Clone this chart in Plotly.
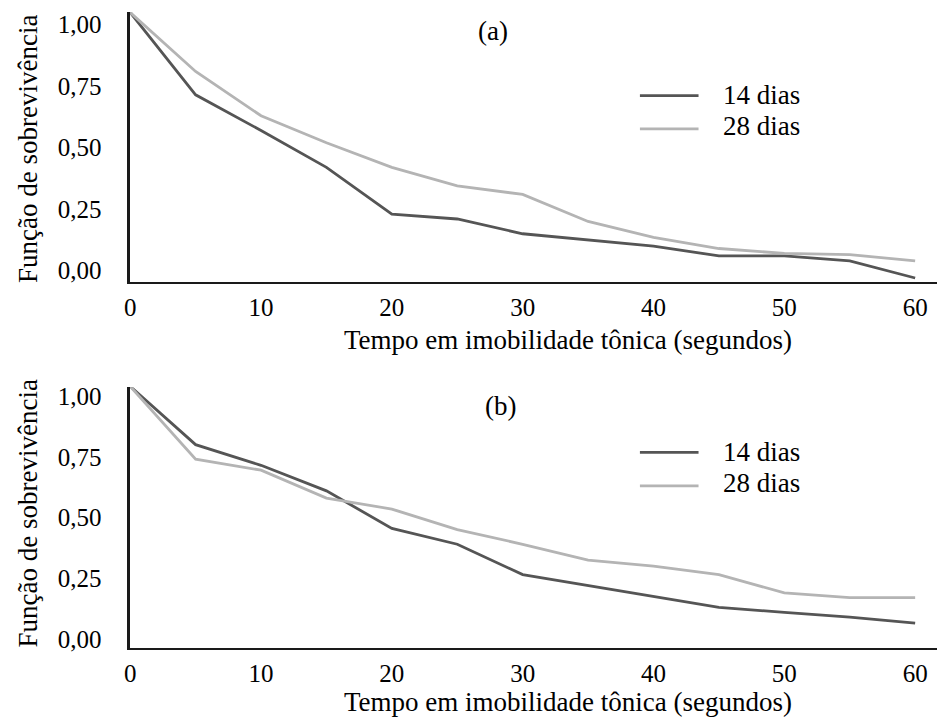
import plotly.graph_objects as go

# ---- data ----
tempo = [0, 5, 10, 15, 20, 25, 30, 35, 40, 45, 50, 55, 60]

a_14_dias = [1.05, 0.715, 0.57, 0.42, 0.23, 0.21, 0.15, 0.125, 0.10, 0.06, 0.06, 0.04, -0.03]
a_28_dias = [1.05, 0.81, 0.63, 0.52, 0.42, 0.345, 0.31, 0.20, 0.135, 0.09, 0.07, 0.065, 0.04]

b_14_dias = [1.04, 0.80, 0.715, 0.61, 0.455, 0.39, 0.265, 0.22, 0.175, 0.13, 0.11, 0.09, 0.065]
b_28_dias = [1.04, 0.74, 0.695, 0.58, 0.535, 0.45, 0.39, 0.325, 0.30, 0.265, 0.19, 0.17, 0.17]

x_ticks = [0, 10, 20, 30, 40, 50, 60]
y_ticks = [0, 0.25, 0.5, 0.75, 1.0]
y_tick_text = ["0,00", "0,25", "0,50", "0,75", "1,00"]

series_names = ["14 dias", "28 dias"]
panel_labels = ["(a)", "(b)"]
x_title = "Tempo em imobilidade tônica (segundos)"
y_title = "Função de sobrevivência"

# ---- styles ----
W, H = 937, 725
FONT = "Liberation Serif, Times New Roman, Times, DejaVu Serif, serif"
DARK = "#555555"
LIGHT = "#b4b4b4"
AXIS = "#1a1a1a"

def px_x(p):
    return p / W

def px_y(p):
    return 1 - p / H

fig = go.Figure()

fig.add_trace(go.Scatter(x=tempo, y=a_14_dias, mode="lines", name=series_names[0],
                         line=dict(color=DARK, width=2.8), xaxis="x", yaxis="y", showlegend=False))
fig.add_trace(go.Scatter(x=tempo, y=a_28_dias, mode="lines", name=series_names[1],
                         line=dict(color=LIGHT, width=2.8), xaxis="x", yaxis="y", showlegend=False))
fig.add_trace(go.Scatter(x=tempo, y=b_14_dias, mode="lines", name=series_names[0],
                         line=dict(color=DARK, width=2.8), xaxis="x2", yaxis="y2", showlegend=False))
fig.add_trace(go.Scatter(x=tempo, y=b_28_dias, mode="lines", name=series_names[1],
                         line=dict(color=LIGHT, width=2.8), xaxis="x2", yaxis="y2", showlegend=False))

xdom = [px_x(125), 1.0]
xrange = [0, 61.67]

common_x = dict(domain=xdom, range=xrange, tickvals=x_ticks, showgrid=False, zeroline=False,
                showline=True, linecolor=AXIS, linewidth=2.2, ticks="",
                tickfont=dict(family=FONT, size=25, color="black"), ticklabelstandoff=2)
common_y = dict(tickvals=y_ticks, ticktext=y_tick_text, showgrid=False, zeroline=False,
                showline=True, linecolor=AXIS, linewidth=2.6, ticks="",
                tickfont=dict(family=FONT, size=25, color="black"), ticklabelstandoff=21)

fig.update_layout(
    width=W, height=H,
    margin=dict(l=0, r=0, t=0, b=0),
    paper_bgcolor="white", plot_bgcolor="white",
    font=dict(family=FONT, color="black"),
    xaxis=dict(**common_x, anchor="y"),
    yaxis=dict(**common_y, domain=[px_y(281), px_y(8)], range=[-0.0442, 1.0522], anchor="x"),
    xaxis2=dict(**common_x, anchor="y2"),
    yaxis2=dict(**common_y, domain=[px_y(652), px_y(388)], range=[-0.0366, 1.0366], anchor="x2"),
)

annotations = []
shapes = []

panels = [
    dict(label_xy=(490, 27), xt_y=340, yt_y=147, leg_lines=(92.7, 126.5), leg_text=(92, 124)),
    dict(label_xy=(498, 407), xt_y=707, yt_y=516, leg_lines=(454, 488), leg_text=(454, 485)),
]
for i, p in enumerate(panels):
    annotations.append(dict(text=panel_labels[i], x=px_x(p["label_xy"][0]), y=px_y(p["label_xy"][1]),
                            xref="paper", yref="paper", showarrow=False, xanchor="center", yanchor="middle",
                            font=dict(family=FONT, size=27, color="black")))
    annotations.append(dict(text=x_title, x=px_x(566), y=px_y(p["xt_y"]),
                            xref="paper", yref="paper", showarrow=False, xanchor="center", yanchor="middle",
                            font=dict(family=FONT, size=27, color="black")))
    annotations.append(dict(text=y_title, x=px_x(22), y=px_y(p["yt_y"]), textangle=-90,
                            xref="paper", yref="paper", showarrow=False, xanchor="center", yanchor="middle",
                            font=dict(family=FONT, size=27, color="black")))
    for j, col in enumerate([DARK, LIGHT]):
        yl = px_y(p["leg_lines"][j])
        shapes.append(dict(type="line", xref="paper", yref="paper", x0=px_x(638), x1=px_x(697),
                           y0=yl, y1=yl, line=dict(color=col, width=2.8)))
        annotations.append(dict(text=series_names[j], x=px_x(720), y=px_y(p["leg_text"][j]),
                                xref="paper", yref="paper", showarrow=False, xanchor="left", yanchor="middle",
                                font=dict(family=FONT, size=27, color="black")))

fig.update_layout(annotations=annotations, shapes=shapes)

fig.write_html("out.html",
               config={"displayModeBar": False},
               post_script="document.body.style.margin='0';document.body.style.overflow='hidden';")
